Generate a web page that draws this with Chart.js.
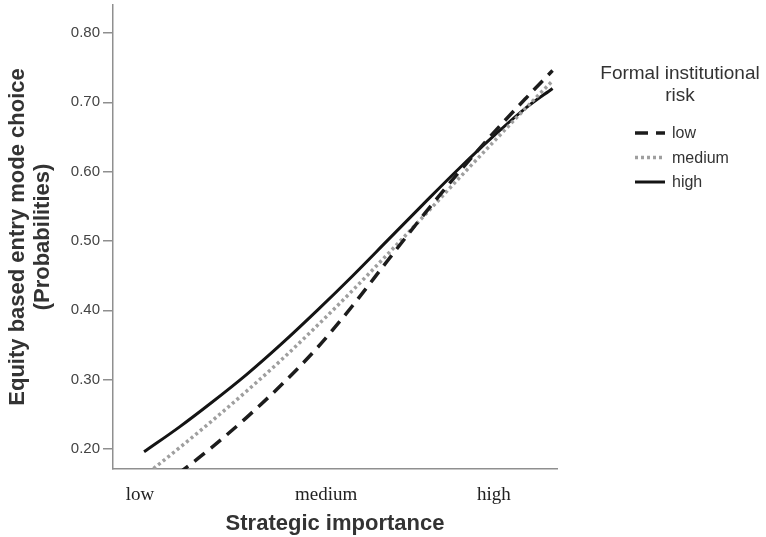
<!DOCTYPE html>
<html>
<head>
<meta charset="utf-8">
<script src="https://cdn.jsdelivr.net/npm/chart.js@4/dist/chart.umd.min.js"></script>
<style>
  html, body { margin: 0; padding: 0; background: #fff; }
  #wrap { position: relative; width: 766px; height: 537px; }
</style>
</head>
<body>
<div id="wrap"><canvas id="chart"></canvas></div>
<script>
// strategic importance (0-100 along the axis)
const xValues = [7, 15, 22, 30, 38, 46, 54, 62, 70, 78, 86, 93, 99];

// predicted probabilities per formal institutional risk level
const lowRisk    = [0.128, 0.166, 0.201, 0.245, 0.293, 0.346, 0.407, 0.473, 0.538, 0.600, 0.658, 0.706, 0.746];
const mediumRisk = [0.161, 0.202, 0.239, 0.283, 0.329, 0.378, 0.429, 0.482, 0.536, 0.591, 0.645, 0.692, 0.731];
const highRisk   = [0.196, 0.232, 0.266, 0.307, 0.352, 0.400, 0.450, 0.502, 0.554, 0.605, 0.653, 0.692, 0.720];

const yTicks = [0.2, 0.3, 0.4, 0.5, 0.6, 0.7, 0.8];
const xTickPositions = [6.1, 48, 85.8];
const xTickLabels = ["low", "medium", "high"];

const legendTitle = ["Formal institutional", "risk"];

function toPoints(ys) {
    return xValues.map((x, i) => ({ x: x, y: ys[i] }));
}

// legend drawn by hand, to the right of the plot
const sideLegend = {
    id: "sideLegend",
    afterDraw(chart) {
        const ctx = chart.ctx;
        ctx.save();
        ctx.fillStyle = "#333";
        ctx.textAlign = "center";
        ctx.textBaseline = "middle";
        ctx.font = "19px 'Liberation Sans', Arial, sans-serif";
        ctx.fillText(legendTitle[0], 680, 74);
        ctx.fillText(legendTitle[1], 680, 96);

        ctx.textAlign = "left";
        ctx.font = "16px 'Liberation Sans', Arial, sans-serif";
        chart.data.datasets.forEach((ds, i) => {
            const y = 133 + i * 24.5;
            ctx.beginPath();
            ctx.strokeStyle = ds.borderColor;
            ctx.lineWidth = ds.borderWidth;
            ctx.setLineDash(ds.borderDash || []);
            ctx.moveTo(635, y);
            ctx.lineTo(665, y);
            ctx.stroke();
            ctx.setLineDash([]);
            ctx.fillText(ds.label, 672, y + 1);
        });
        ctx.restore();
    }
};

const axisGray = "#8f8f8f";

new Chart(document.getElementById("chart").getContext("2d"), {
    type: "line",
    data: {
        datasets: [
            {
                label: "low",
                data: toPoints(lowRisk),
                borderColor: "#1c1c1c",
                borderWidth: 3.5,
                borderDash: [13, 8],
            },
            {
                label: "medium",
                data: toPoints(mediumRisk),
                borderColor: "#9f9f9f",
                borderWidth: 3.5,
                borderDash: [3, 3],
            },
            {
                label: "high",
                data: toPoints(highRisk),
                borderColor: "#141414",
                borderWidth: 3,
            },
        ],
    },
    options: {
        responsive: true,
        maintainAspectRatio: false,
        animation: false,
        cubicInterpolationMode: "monotone",
        elements: { point: { radius: 0 } },
        layout: { padding: { left: 0, top: 5, right: 209, bottom: 0 } },
        plugins: {
            legend: { display: false },
            tooltip: { enabled: false },
        },
        scales: {
            x: {
                type: "linear",
                min: 0,
                max: 100,
                grid: { display: false },
                border: { display: true, color: axisGray, width: 1.5 },
                afterBuildTicks: (scale) => {
                    scale.ticks = xTickPositions.map((v) => ({ value: v }));
                },
                afterFit: (scale) => {
                    scale.height = 68;
                    scale.paddingLeft = 0;
                    scale.paddingRight = 0;
                },
                ticks: {
                    autoSkip: false,
                    maxRotation: 0,
                    padding: 7,
                    color: "#222",
                    font: { family: "'Liberation Serif', 'Times New Roman', serif", size: 19 },
                    callback: (value, index) => xTickLabels[index],
                },
                title: {
                    display: true,
                    text: "Strategic importance",
                    color: "#333",
                    padding: { top: 0, bottom: 0 },
                    font: { family: "'Liberation Sans', Arial, sans-serif", size: 22, weight: "bold" },
                },
            },
            y: {
                type: "linear",
                min: 0.1712,
                max: 0.8404,
                grid: {
                    display: true,
                    drawOnChartArea: false,
                    drawTicks: true,
                    tickLength: 10,
                    color: axisGray,
                    lineWidth: 1.5,
                },
                border: { display: true, color: axisGray, width: 1.5 },
                afterBuildTicks: (scale) => {
                    scale.ticks = yTicks.map((v) => ({ value: v }));
                },
                afterFit: (scale) => {
                    scale.width = 113;
                    scale.paddingTop = 0;
                    scale.paddingBottom = 0;
                },
                ticks: {
                    padding: 3,
                    color: "#444",
                    font: { family: "'Liberation Sans', Arial, sans-serif", size: 15 },
                    callback: (value) => value.toFixed(2),
                },
                title: {
                    display: true,
                    text: ["Equity based entry mode choice", "(Probabilities)"],
                    color: "#333",
                    padding: { top: 5, bottom: 0 },
                    font: { family: "'Liberation Sans', Arial, sans-serif", size: 22, weight: "bold", lineHeight: 1.15 },
                },
            },
        },
    },
    plugins: [sideLegend],
});
</script>
</body>
</html>
